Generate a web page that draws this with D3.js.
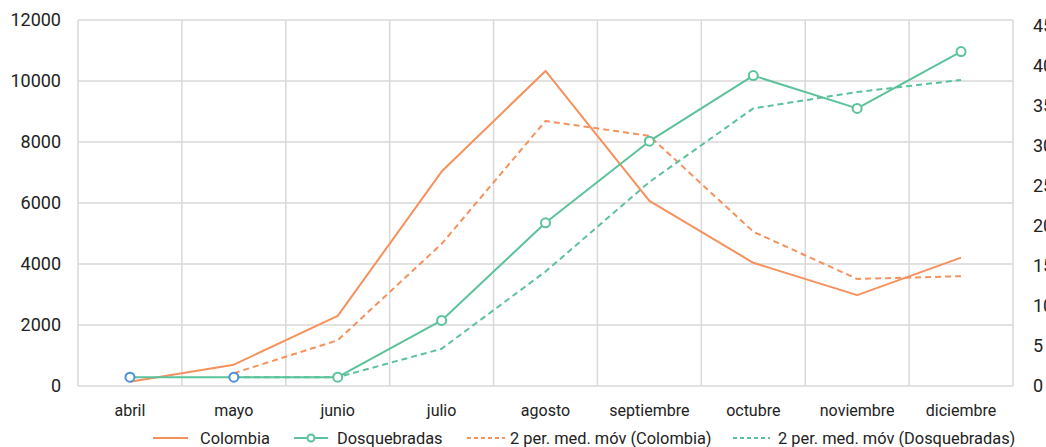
<!DOCTYPE html>
<html>
<head>
<meta charset="utf-8">
<script src="https://cdn.jsdelivr.net/npm/d3@7"></script>
<style>
html,body{margin:0;padding:0;background:#fff;overflow:hidden;}
svg{display:block;font-family:Roboto,"Noto Sans",sans-serif;}
</style>
</head>
<body>
<svg id="chart" width="1046" height="447"></svg>
<script>
const months = ["abril","mayo","junio","julio","agosto","septiembre","octubre","noviembre","diciembre"];
const colombia = [140, 700, 2300, 7030, 10330, 6070, 4040, 2980, 4210];
const dosquebradas = [1.1, 1.1, 1.1, 8.2, 20.4, 30.6, 38.8, 34.7, 41.8];
const colombiaMA = [null, 420, 1500, 4660, 8690, 8200, 5060, 3510, 3600];
const dosquebradasMA = [null, 1.1, 1.1, 4.65, 14.3, 25.5, 34.7, 36.75, 38.25];
const leftTicks = [0, 2000, 4000, 6000, 8000, 10000, 12000];
const rightTicks = [0, 5, 10, 15, 20, 25, 30, 35, 40, 45];
const legendLabels = ["Colombia", "Dosquebradas", "2 per. med. móv (Colombia)", "2 per. med. móv (Dosquebradas)"];

const orange = "#f5915c", green = "#5bc29a", blue = "#4a90d9", grid = "#d9d9d9", textCol = "#222";
const svg = d3.select("#chart");
const m = {left: 78, right: 1013, top: 20, bottom: 386};

const x = d3.scaleBand().domain(months).range([m.left, m.right]);
const yL = d3.scaleLinear().domain([0, 12000]).range([m.bottom, m.top]);
const yR = d3.scaleLinear().domain([0, 45]).range([m.bottom, 26]);

// grid
const g = svg.append("g");
g.selectAll(".hg").data(leftTicks).join("line")
  .attr("x1", m.left).attr("x2", m.right)
  .attr("y1", d => yL(d)).attr("y2", d => yL(d))
  .attr("stroke", grid).attr("stroke-width", 1.5);
const vb = months.map(d => x(d)).concat([m.right]);
g.selectAll(".vg").data(vb).join("line")
  .attr("x1", d => d).attr("x2", d => d)
  .attr("y1", m.top).attr("y2", m.bottom)
  .attr("stroke", grid).attr("stroke-width", 1.5);

// left axis labels
svg.append("g").selectAll("text").data(leftTicks).join("text")
  .attr("x", 61).attr("y", d => yL(d)).attr("dy", "0.35em")
  .attr("text-anchor", "end").attr("font-size", 18).attr("fill", textCol)
  .text(d => d);
// right axis labels
svg.append("g").selectAll("text").data(rightTicks).join("text")
  .attr("x", 1033).attr("y", d => yR(d)).attr("dy", "0.35em")
  .attr("text-anchor", "start").attr("font-size", 18).attr("fill", textCol)
  .text(d => d);
// x labels
svg.append("g").selectAll("text").data(months).join("text")
  .attr("x", d => x(d) + x.bandwidth()/2).attr("y", 410).attr("dy", "0.35em")
  .attr("text-anchor", "middle").attr("font-size", 16).attr("fill", textCol)
  .text(d => d);

const cx = (d, i) => x(months[i]) + x.bandwidth()/2;
function drawLine(vals, yScale, color, dash) {
  const line = d3.line().defined(d => d !== null).x(cx).y(d => yScale(d));
  svg.append("path").datum(vals).attr("d", line)
    .attr("fill", "none").attr("stroke", color).attr("stroke-width", 2)
    .attr("stroke-dasharray", dash || null).attr("stroke-linejoin", "round");
}
drawLine(colombiaMA, yL, orange, "6,4");
drawLine(dosquebradasMA, yR, green, "6,4");
drawLine(colombia, yL, orange);
drawLine(dosquebradas, yR, green);
svg.append("g").selectAll("circle").data(dosquebradas).join("circle")
  .attr("cx", cx).attr("cy", d => yR(d)).attr("r", 4.5)
  .attr("fill", "#fff").attr("stroke", (d, i) => i < 2 ? blue : green).attr("stroke-width", 2);

// legend
const lg = svg.append("g");
const items = [
  {x1: 153, x2: 188, tx: 200, color: orange, dash: null, marker: false},
  {x1: 294, x2: 328, tx: 337, color: green, dash: null, marker: true},
  {x1: 467, x2: 505, tx: 510, color: orange, dash: "4,3", marker: false},
  {x1: 733, x2: 770, tx: 778, color: green, dash: "4,3", marker: false}
];
items.forEach((it, i) => {
  lg.append("line").attr("x1", it.x1).attr("x2", it.x2).attr("y1", 438).attr("y2", 438)
    .attr("stroke", it.color).attr("stroke-width", 2).attr("stroke-dasharray", it.dash);
  if (it.marker) lg.append("circle").attr("cx", (it.x1 + it.x2) / 2).attr("cy", 438).attr("r", 3.5)
    .attr("fill", "#fff").attr("stroke", it.color).attr("stroke-width", 2);
  lg.append("text").attr("x", it.tx).attr("y", 438).attr("dy", "0.35em")
    .attr("font-size", 16.4).attr("fill", textCol).text(legendLabels[i]);
});
</script>
</body>
</html>
